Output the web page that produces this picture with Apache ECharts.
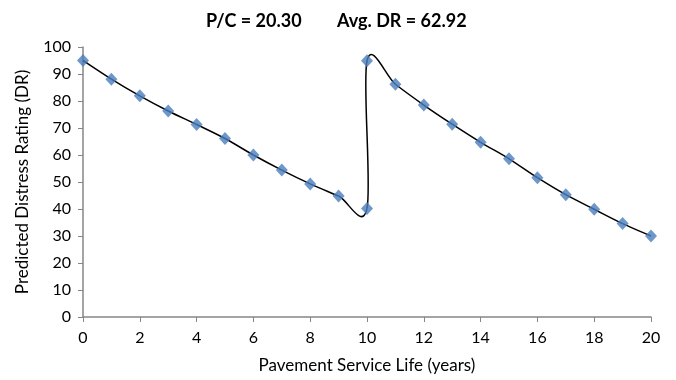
<!DOCTYPE html>
<html><head><meta charset="utf-8">
<script src="https://cdn.jsdelivr.net/npm/echarts@6/dist/echarts.min.js"></script>
<style>html,body{margin:0;padding:0;background:#fff}#c{width:676px;height:380px}</style>
</head><body><div id="c"></div>
<script>
const years = [0,1,2,3,4,5,6,7,8,9,10,10,11,12,13,14,15,16,17,18,19,20];
const ratings = [95,88.1,81.9,76.3,71.3,66.1,60,54.4,49.3,44.8,40.2,94.9,86.2,78.5,71.4,64.7,58.6,51.6,45.3,39.9,34.6,30];
const titleParts = ['P/C = 20.30', 'Avg. DR = 62.92'];
const xName = 'Pavement Service Life (years)';
const yName = 'Predicted Distress Rating (DR)';

const data = years.map((x, i) => [x, ratings[i]]);
const font = 'Lato';

// Excel-style smoothed curve (Catmull-Rom -> cubic Bezier) through the data,
// positioned through the chart's own axes via api.coord.
function renderCurve(params, api) {
  const p = data.map(d => api.coord(d));
  const n = p.length;
  const children = [];
  for (let i = 0; i < n - 1; i++) {
    const p0 = p[Math.max(i - 1, 0)], p1 = p[i], p2 = p[i + 1], p3 = p[Math.min(i + 2, n - 1)];
    children.push({
      type: 'bezierCurve',
      shape: {
        x1: p1[0], y1: p1[1], x2: p2[0], y2: p2[1],
        cpx1: p1[0] + (p2[0] - p0[0]) / 6, cpy1: p1[1] + (p2[1] - p0[1]) / 6,
        cpx2: p2[0] - (p3[0] - p1[0]) / 6, cpy2: p2[1] - (p3[1] - p1[1]) / 6
      },
      style: { stroke: '#000', lineWidth: 1.5, fill: null }
    });
  }
  return { type: 'group', children: children };
}

const titleStyle = { fontFamily: font, fontWeight: 'bold', fontSize: 18, color: '#000' };
const chart = echarts.init(document.getElementById('c'));
chart.setOption({
  animation: false,
  title: [
    { text: titleParts[0], left: 201, top: 7, textStyle: titleStyle },
    { text: titleParts[1], left: 332, top: 7, textStyle: titleStyle }
  ],
  grid: { left: 83, right: 25, top: 47, bottom: 63 },
  xAxis: { type: 'value', min: 0, max: 20, interval: 2,
    name: xName, nameLocation: 'middle', nameGap: 40,
    nameTextStyle: { fontFamily: font, fontSize: 17, color: '#000' },
    axisLine: { lineStyle: { color: '#868686', width: 1.5 } },
    axisTick: { show: true, length: 5, lineStyle: { color: '#868686' } },
    axisLabel: { fontFamily: font, fontSize: 16, color: '#000', margin: 13 },
    splitLine: { show: false } },
  yAxis: { type: 'value', min: 0, max: 100, interval: 10,
    name: yName, nameLocation: 'middle', nameGap: 52, nameRotate: 90,
    nameTextStyle: { fontFamily: font, fontSize: 17, color: '#000' },
    axisLine: { show: true, lineStyle: { color: '#868686', width: 1.5 } },
    axisTick: { show: true, length: 5, lineStyle: { color: '#868686' } },
    axisLabel: { fontFamily: font, fontSize: 16, color: '#000', margin: 12 },
    splitLine: { show: false } },
  series: [
    { type: 'custom', data: [[0, 0]], renderItem: renderCurve, z: 2, silent: true },
    { type: 'scatter', data: data, symbol: 'diamond', symbolSize: [12, 13],
      itemStyle: { color: '#4A7EBB' }, z: 3 }
  ]
});
</script></body></html>
